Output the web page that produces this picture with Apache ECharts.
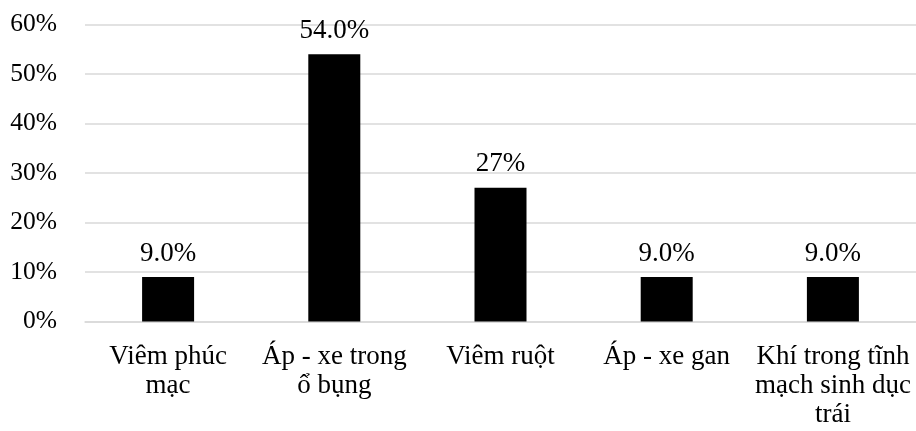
<!DOCTYPE html>
<html>
<head>
<meta charset="utf-8">
<script src="https://cdn.jsdelivr.net/npm/echarts@6/dist/echarts.min.js"></script>
<style>html,body{margin:0;padding:0;background:#fff}#c{width:916px;height:431px}</style>
</head>
<body>
<div id="c"></div>
<script>
const categories = ["Viêm phúc\nmạc", "Áp - xe trong\nổ bụng", "Viêm ruột", "Áp - xe gan", "Khí trong tĩnh\nmạch sinh dục\ntrái"];
const values = [9, 54, 27, 9, 9];
const valueLabels = ["9.0%", "54.0%", "27%", "9.0%", "9.0%"];
const yTicks = [0, 10, 20, 30, 40, 50, 60];

const font = "'Liberation Serif', 'Times New Roman', serif";
const chart = echarts.init(document.getElementById('c'));
chart.setOption({
  animation: false,
  grid: { left: 85, right: -3, top: 24.5, bottom: 109.5 },
  xAxis: {
    type: 'category',
    data: categories,
    axisLine: { show: true, lineStyle: { color: '#d9d9d9', width: 1.5 } },
    axisTick: { show: false },
    axisLabel: { color: '#000', fontFamily: font, fontSize: 27, lineHeight: 29, margin: 21, interval: 0 }
  },
  yAxis: {
    type: 'value',
    min: yTicks[0],
    max: yTicks[yTicks.length - 1],
    interval: 10,
    axisLine: { show: false },
    axisTick: { show: false },
    splitLine: { lineStyle: { color: '#d9d9d9', width: 1.5 } },
    axisLabel: { color: '#000', fontFamily: font, fontSize: 25.5, margin: 28, formatter: v => v + '%' }
  },
  series: [{
    type: 'bar',
    data: values,
    barWidth: 52,
    itemStyle: { color: '#000' },
    label: {
      show: true,
      position: 'top',
      distance: 10,
      color: '#000',
      fontFamily: font,
      fontSize: 27,
      formatter: p => valueLabels[p.dataIndex]
    }
  }]
});
</script>
</body>
</html>
